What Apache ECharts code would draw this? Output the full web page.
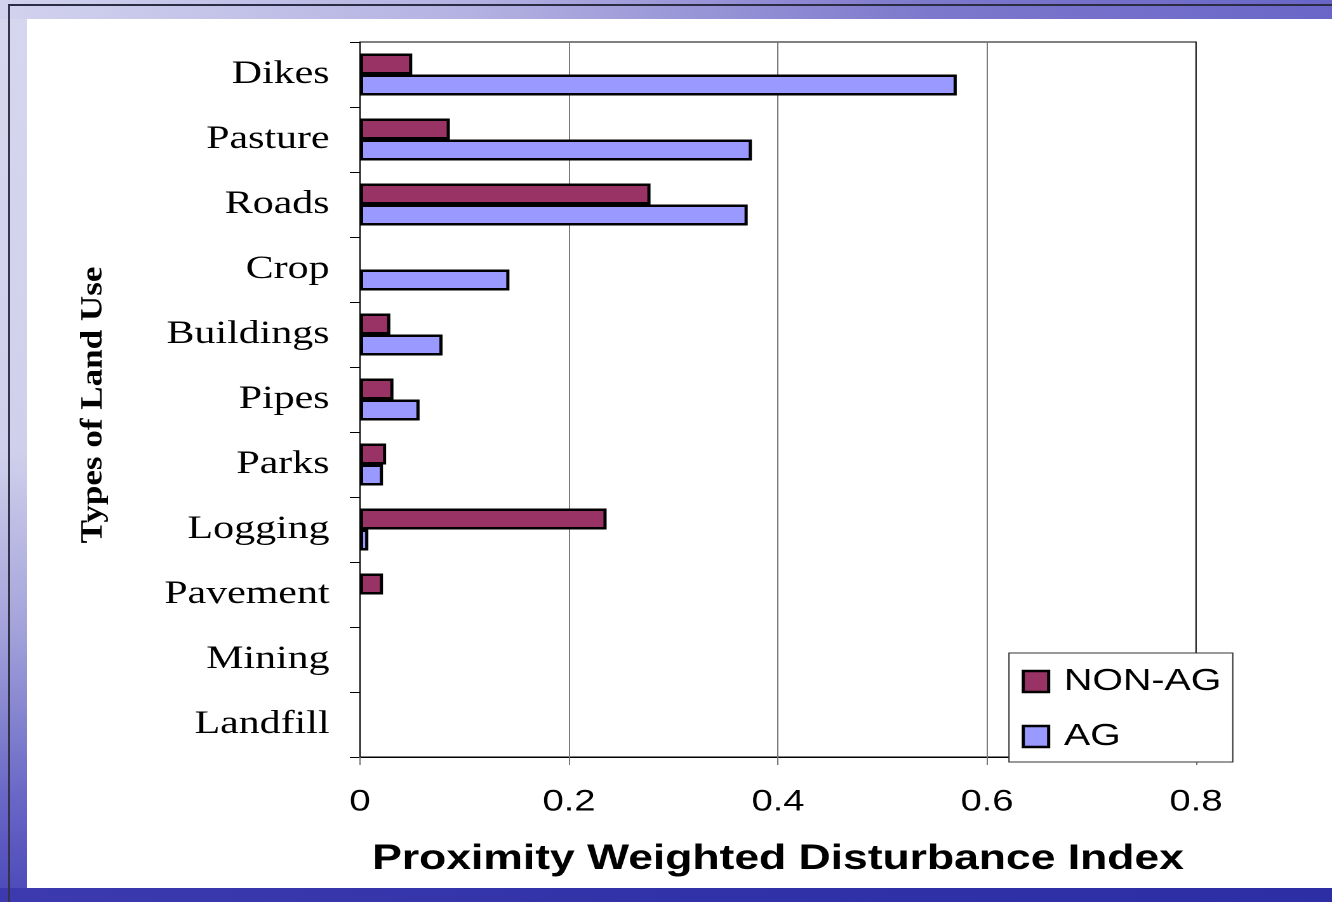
<!DOCTYPE html>
<html>
<head>
<meta charset="utf-8">
<title>Proximity Weighted Disturbance Index by Land Use</title>
<script src="https://cdn.jsdelivr.net/npm/echarts@6/dist/echarts.min.js"></script>
<style>
  html, body { margin: 0; padding: 0; width: 1332px; height: 902px; overflow: hidden; }
  #page {
    position: relative; width: 1332px; height: 902px; overflow: hidden;
    background:
      linear-gradient(to bottom, #d6d6ef 0%, #d0d0ec 50%, #a2a2da 70%, #6a68c6 88%, #4a48b8 100%);
  }
  #topband {
    position: absolute; left: 0; top: 0; width: 1332px; height: 19px;
    background: linear-gradient(to right, #d2d2ee 0%, #b4b2e2 35%, #7c78cc 70%, #6a66c8 100%);
  }
  #bottomband {
    position: absolute; left: 0; top: 888px; width: 1332px; height: 14px;
    background: linear-gradient(to right, #3c3aae 0%, #3232a8 50%, #2e2ea4 100%);
  }
  #frame {
    position: absolute; left: 8px; top: 4px; width: 1400px; height: 1000px;
    border-top: 2px solid #2c2c44; border-left: 2px solid #34344a;
  }
  #panel {
    position: absolute; left: 27px; top: 19px; width: 1305px; height: 869px; background: #ffffff;
  }
  #chart {
    position: absolute; left: 0; top: 0; width: 1049px; height: 902px;
    transform: scaleX(1.2698); transform-origin: 0 0;
  }
</style>
</head>
<body>
<div id="page">
  <div id="topband"></div>
  <div id="bottomband"></div>
  <div id="frame"></div>
  <div id="panel"></div>
  <div id="chart"></div>
</div>
<script>
// Land-use categories, top to bottom
const categories = ['Dikes', 'Pasture', 'Roads', 'Crop', 'Buildings', 'Pipes', 'Parks', 'Logging', 'Pavement', 'Mining', 'Landfill'];
// Disturbance index per category
const nonAgValues = [0.050, 0.086, 0.278, 0, 0.029, 0.032, 0.025, 0.236, 0.022, 0, 0];
const agValues    = [0.571, 0.375, 0.371, 0.143, 0.079, 0.057, 0.022, 0.008, 0, 0, 0];
// Value axis ticks
const xTicks = [0, 0.2, 0.4, 0.6, 0.8];
const seriesNames = ['NON-AG', 'AG'];
const xTitle = 'Proximity Weighted Disturbance Index';
const yTitle = 'Types of Land Use';

const serif = '"Liberation Serif", "Times New Roman", serif';
const sans = '"Liberation Sans", Arial, sans-serif';

// zero-valued bars get no outline so nothing is drawn for them
function toItems(arr) {
  return arr.map(v => v === 0 ? { value: 0, itemStyle: { borderWidth: 0 } } : v);
}

const chart = echarts.init(document.getElementById('chart'), null, { renderer: 'canvas', devicePixelRatio: 2 });

chart.setOption({
  animation: false,
  backgroundColor: 'transparent',
  grid: {
    left: 283.5, right: 107.1, top: 42, bottom: 145,
    show: true, borderColor: '#000', borderWidth: 1, backgroundColor: 'transparent'
  },
  xAxis: {
    type: 'value',
    min: xTicks[0], max: xTicks[xTicks.length - 1], interval: xTicks[1] - xTicks[0],
    axisLine: { show: true, lineStyle: { color: '#000', width: 1 } },
    axisTick: { show: true, length: 8, lineStyle: { color: '#777', width: 1 } },
    axisLabel: {
      margin: 30, color: '#000', fontFamily: sans, fontSize: 30,
      formatter: v => v === 0 ? '0' : v.toFixed(1)
    },
    splitLine: { show: true, showMinLine: false, showMaxLine: false, lineStyle: { color: '#7a7a7a', width: 1 } },
    name: xTitle, nameLocation: 'middle', nameGap: 85,
    nameTextStyle: { color: '#000', fontFamily: sans, fontWeight: 'bold', fontSize: 35 }
  },
  yAxis: {
    type: 'category', data: categories, inverse: true,
    axisLine: { show: true, lineStyle: { color: '#000', width: 1 } },
    axisTick: { show: true, length: 8, alignWithLabel: false, lineStyle: { color: '#000', width: 1 } },
    axisLabel: { margin: 24, color: '#000', fontFamily: serif, fontSize: 33 },
    splitLine: { show: false }
  },
  legend: {
    orient: 'vertical', left: 794.6, top: 653,
    padding: [13, 9, 10, 10],
    backgroundColor: '#fff', borderColor: '#333', borderWidth: 1,
    itemWidth: 20, itemHeight: 21, itemGap: 24, icon: 'rect',
    itemStyle: { borderColor: '#000', borderWidth: 2.5 },
    textStyle: { color: '#000', fontFamily: sans, fontSize: 31, padding: [0, 0, 0, 7] },
    data: seriesNames
  },
  graphic: [{
    type: 'text',
    x: 73.6, y: 405,
    rotation: Math.PI / 2,
    scaleX: 1.46, scaleY: 1,
    style: {
      text: yTitle, fill: '#000',
      fontFamily: serif, fontWeight: 'bold', fontSize: 24,
      align: 'center', verticalAlign: 'middle'
    }
  }],
  series: [
    {
      name: seriesNames[0], type: 'bar', data: toItems(nonAgValues),
      barWidth: 21, barGap: '0%',
      itemStyle: { color: '#993366', borderColor: '#000', borderWidth: 2.5 }
    },
    {
      name: seriesNames[1], type: 'bar', data: toItems(agValues),
      barWidth: 21, barGap: '0%',
      itemStyle: { color: '#9999ff', borderColor: '#000', borderWidth: 2.5 }
    }
  ]
});
</script>
</body>
</html>
